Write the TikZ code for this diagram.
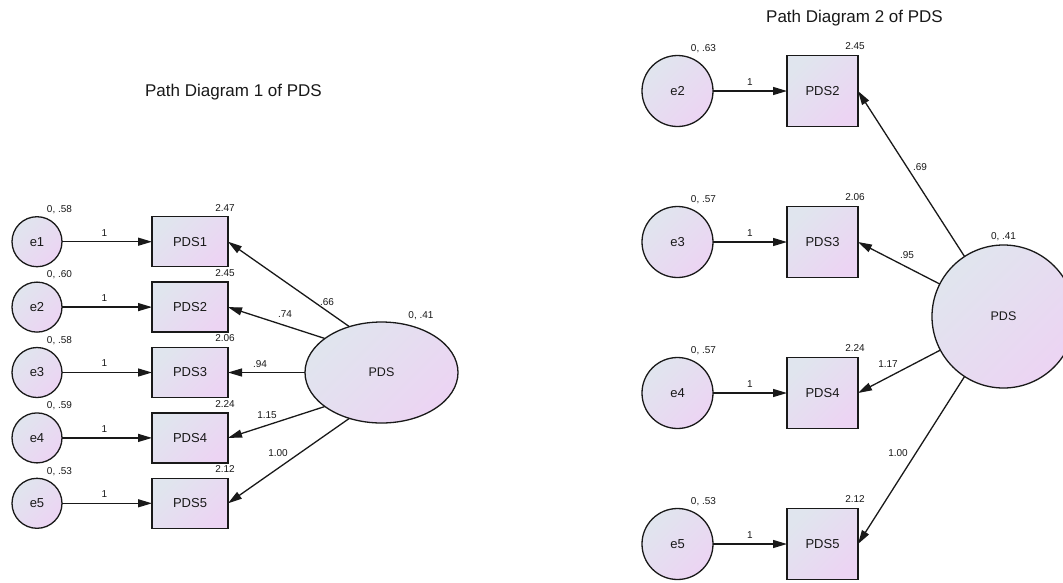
\documentclass[tikz,border=0pt]{standalone}
\usepackage{fontspec}
\setmainfont{Liberation Sans}
\usetikzlibrary{arrows.meta,shapes.geometric,calc}
\definecolor{cA}{RGB}{224,229,238}
\definecolor{cB}{RGB}{236,212,243}
\definecolor{ink}{RGB}{25,25,25}
\tikzset{
  shade2/.style={top color=cA, bottom color=cB, shading angle=45},
  obs/.style={draw=ink, line width=1.3pt, rectangle, inner sep=0pt, outer sep=0pt,
    shade2, font=\fontsize{13}{15}\selectfont, text=ink},
  lat/.style={draw=ink, line width=1.3pt, circle, inner sep=0pt, outer sep=0pt,
    shade2, font=\fontsize{13}{15}\selectfont, text=ink},
  small/.style={font=\fontsize{10}{12}\selectfont, text=ink, inner sep=0pt},
  ttl/.style={font=\fontsize{17}{20}\selectfont, text=ink, inner sep=0pt},
  arr/.style={draw=ink, line width=1.3pt, -{Triangle[length=14pt,width=8pt]}}
}
\begin{document}
\begin{tikzpicture}[x=1pt,y=-1pt]
\useasboundingbox (0,0) rectangle (1063,582);
\clip (0,0) rectangle (1063,582);
\fill[white] (0,0) rectangle (1063,582);

% ---------- Diagram 1 ----------
\node[ttl] (t1) at (233.5,92) {Path Diagram 1 of PDS};
\foreach \i/\y/\v/\m in {1/241.7/.58/2.47, 2/307.1/.60/2.45, 3/372.5/.58/2.06, 4/437.9/.59/2.24, 5/503.3/.53/2.12}{
  \node[lat, minimum size=50pt] (e\i) at (37,\y) {e\i};
  \node[obs, minimum width=76pt, minimum height=50pt] (p\i) at (190,\y) {PDS\i};
  \node[small] (ve\i) at (59.5,{\y-32}) {0, \v};
  \node[small] (mp\i) at (225,{\y-34}) {\m};
  \draw[arr] (e\i) -- node[small, pos=0.47, above=5pt] (one\i) {1} (p\i);
}
\node[lat, ellipse, minimum width=153pt, minimum height=101pt, font=\fontsize{12.5}{15}\selectfont] (L) at (381.5,372.5) {PDS};
\node[small] (vL) at (421,316) {0, .41};
\draw[arr] (L.125) -- (p1.east);
\draw[arr] (L.149) -- (p2.east);
\draw[arr] (L.180) -- (p3.east);
\draw[arr] (L.211) -- (p4.east);
\draw[arr] (L.235) -- (p5.east);
\node[small] (w1) at (327,302) {.66};
\node[small] (w2) at (285,314) {.74};
\node[small] (w3) at (260,364) {.94};
\node[small] (w4) at (267,415) {1.15};
\node[small] (w5) at (278,453) {1.00};

% ---------- Diagram 2 ----------
\node[ttl] (t2) at (854.5,18) {Path Diagram 2 of PDS};
\foreach \i/\y/\v/\m in {2/91/.63/2.45, 3/242/.57/2.06, 4/393/.57/2.24, 5/544/.53/2.12}{
  \node[lat, minimum size=71pt] (f\i) at (677.5,\y) {e\i};
  \node[obs, minimum width=71pt, minimum height=71pt] (q\i) at (822.5,\y) {PDS\i};
  \node[small] (vf\i) at (703.5,{\y-42}) {0, \v};
  \node[small] (mq\i) at (855,{\y-45}) {\m};
  \draw[arr] (f\i) -- node[small, midway, above=5pt] (onef\i) {1} (q\i);
}
\node[lat, minimum size=143pt, font=\fontsize{12.5}{15}\selectfont] (R) at (1003.5,316.5) {PDS};
\node[small] (vR) at (1003.5,237) {0, .41};
\draw[arr] (R.123) -- (q2.east);
\draw[arr] (R.153) -- (q3.east);
\draw[arr] (R.208) -- (q4.east);
\draw[arr] (R.237) -- (q5.east);
\node[small] (x2) at (920,167) {.69};
\node[small] (x3) at (907,255) {.95};
\node[small] (x4) at (888,364) {1.17};
\node[small] (x5) at (898,453) {1.00};
\end{tikzpicture}
\end{document}
